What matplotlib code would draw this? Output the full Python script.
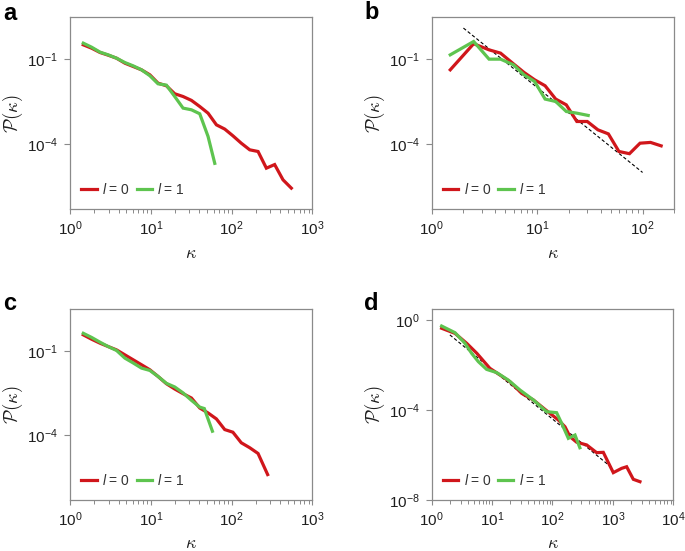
import matplotlib
matplotlib.use('Agg')
import matplotlib.pyplot as plt
from matplotlib import ticker

plt.rcParams['font.family'] = ['Liberation Sans', 'DejaVu Sans']
# legend "l" is a sans italic, axis labels use computer modern (set per text)
plt.rcParams['mathtext.fontset'] = 'custom'
plt.rcParams['mathtext.rm'] = 'Liberation Sans'
plt.rcParams['mathtext.it'] = 'Liberation Sans:italic'
plt.rcParams['mathtext.bf'] = 'Liberation Sans:bold'

RED = '#d0161b'
GREEN = '#5ec44f'
SPINE = '#8a8a8a'
TEXT = '#1e1e1e'

# panel a
k_a0 = [1.46, 1.85, 2.35, 2.97, 3.77, 4.78, 6.06, 7.68, 9.74, 12.3, 15.6, 19.8, 25.1,
        31.9, 40.4, 51.2, 65.0, 82.4, 104, 132, 168, 213, 270, 342, 434, 550]
p_a0 = [0.32, 0.244, 0.172, 0.138, 0.108, 0.072, 0.055, 0.042, 0.028, 0.0142, 0.0115,
        0.0060, 0.0048, 0.0035, 0.00213, 0.00124, 4.8e-4, 3.4e-4, 1.97e-4, 1.08e-4,
        6.3e-5, 5.5e-5, 1.42e-5, 1.9e-5, 5.5e-6, 2.8e-6]
k_a1 = [1.46, 1.85, 2.35, 2.97, 3.77, 4.78, 6.06, 7.68, 9.74, 12.3, 15.6, 19.8, 25.1,
        31.9, 40.4, 51.2, 62.0]
p_a1 = [0.367, 0.265, 0.177, 0.142, 0.108, 0.076, 0.058, 0.042, 0.026, 0.0135, 0.0121,
        0.0048, 0.00187, 0.00163, 0.00118, 1.87e-4, 2.1e-5]

# panel b
k_b0 = [1.5, 2.5, 3.5, 4.5, 5.97, 7.51, 9.46, 11.9, 15.0, 18.9, 23.8, 29.9, 37.7,
        47.4, 59.7, 75.1, 94.6, 119, 150]
p_b0 = [0.042, 0.35, 0.213, 0.163, 0.068, 0.034, 0.0187, 0.0115, 0.0039, 0.00244,
        6.3e-4, 6.3e-4, 3.2e-4, 2.3e-4, 5.5e-5, 4.6e-5, 1.08e-4, 1.15e-4, 8.7e-5]
k_b1 = [1.5, 2.5, 3.5, 4.5, 5.97, 7.51, 9.46, 11.9, 15.0, 18.9, 23.8, 30.5]
p_b1 = [0.142, 0.42, 0.1, 0.1, 0.063, 0.028, 0.0163, 0.0039, 0.0032, 0.00142,
        0.00124, 0.00103]
fit_b_k = [2, 100]
fit_b_p = [1.25, 1e-5]

# panel c
k_c0 = [1.46, 1.85, 2.35, 2.97, 3.77, 4.78, 6.06, 7.68, 9.74, 12.3, 15.6, 19.8, 25.1,
        31.9, 40.4, 51.2, 65.0, 82.4, 104, 132, 168, 213, 280]
p_c0 = [0.37, 0.259, 0.187, 0.142, 0.108, 0.072, 0.048, 0.032, 0.0212, 0.0123, 0.0068,
        0.0044, 0.0030, 0.0021, 9.3e-4, 6.2e-4, 3.8e-4, 1.59e-4, 1.28e-4, 5.4e-5,
        3.6e-5, 2.25e-5, 4.0e-6]
k_c1 = [1.46, 1.85, 2.35, 2.97, 3.77, 4.78, 6.06, 7.68, 9.74, 12.3, 15.6, 19.8, 25.1,
        31.9, 40.4, 46.0, 58.0]
p_c1 = [0.42, 0.30, 0.203, 0.142, 0.103, 0.055, 0.037, 0.0243, 0.0201, 0.0123, 0.0070,
        0.0052, 0.0032, 0.00174, 1.0e-3, 8.9e-4, 1.39e-4]

# panel d
k_d0 = [1.46, 2.43, 3.8, 5.6, 9.2, 13.5, 19.8, 30.9, 48.2, 80, 125, 161, 195, 251,
        368, 538, 694, 1016, 1397, 1690, 2178, 2806]
p_d0 = [0.43, 0.255, 0.092, 0.033, 0.0071, 0.0036, 0.0018, 5.5e-4, 2.8e-4, 9.3e-5,
        3.6e-5, 1.8e-5, 6.5e-6, 3.7e-6, 2.8e-6, 1.27e-6, 1.31e-6, 1.64e-7, 2.55e-7,
        3.0e-7, 8.3e-8, 6.5e-8]
k_d1 = [1.46, 2.43, 3.56, 4.59, 5.92, 8.11, 11.9, 18.5, 29, 48.2, 80, 117, 142, 183,
        236, 284]
p_d1 = [0.54, 0.274, 0.092, 0.033, 0.0141, 0.0064, 0.0046, 0.00215, 7.7e-4, 2.8e-4,
        8.4e-5, 7.6e-5, 2.55e-5, 5.5e-6, 7.7e-6, 2.1e-6]
fit_d_k = [2, 1000]
fit_d_p = [0.218, 2.5e-7]

legend_labels = [r'$l$ = 0', r'$l$ = 1']


def draw_panel(ax, k0, p0, k1, p1, xlim, ylim, yticks, fit=None):
    if fit is not None:
        ax.plot(fit[0], fit[1], color='black', lw=0.8, dashes=(3, 2), zorder=1)
    ax.plot(k0, p0, color=RED, lw=2.3, label=legend_labels[0], zorder=2,
            solid_joinstyle='miter')
    ax.plot(k1, p1, color=GREEN, lw=2.3, label=legend_labels[1], zorder=3,
            solid_joinstyle='miter')
    ax.set_xscale('log')
    ax.set_yscale('log')
    ax.set_xlim(*xlim)
    ax.set_ylim(*ylim)
    ax.set_yticks(yticks)
    ax.yaxis.set_minor_locator(ticker.NullLocator())
    ax.xaxis.set_minor_locator(ticker.LogLocator(base=10, subs=range(2, 10), numticks=20))
    for s in ax.spines.values():
        s.set_color(SPINE)
        s.set_linewidth(0.9)
    ax.tick_params(axis='x', which='major', length=3.5, width=0.8, color=SPINE,
                   labelsize=11, labelcolor=TEXT, pad=4)
    ax.tick_params(axis='x', which='minor', length=3, width=0.7, color=SPINE)
    ax.tick_params(axis='y', which='major', length=4.5, width=0.8, color=SPINE,
                   labelsize=11, labelcolor=TEXT, pad=4)
    ax.set_xlabel(r'$\kappa$', fontsize=13, math_fontfamily='cm', color=TEXT)
    ax.xaxis.set_label_coords(0.5, -0.185)
    ax.set_ylabel(r'$\mathcal{P}(\kappa)$', fontsize=13.5, math_fontfamily='cm', color=TEXT)
    ax.yaxis.set_label_coords(-0.185, 0.5)
    leg = ax.legend(loc='center left', bbox_to_anchor=(0.047, 0.104), ncol=2,
                    frameon=False, borderpad=0, borderaxespad=0, handlelength=1.1,
                    handletextpad=0.4, columnspacing=0.45, fontsize=10)
    for t in leg.get_texts():
        t.set_color('#333333')


fig = plt.figure(figsize=(6.85, 5.51), dpi=100)
ax_a = fig.add_axes([0.1022, 0.6201, 0.3537, 0.3485])
ax_b = fig.add_axes([0.6302, 0.6201, 0.3542, 0.3485])
ax_c = fig.add_axes([0.1022, 0.0926, 0.3537, 0.3461])
ax_d = fig.add_axes([0.6302, 0.0926, 0.3527, 0.3461])

draw_panel(ax_a, k_a0, p_a0, k_a1, p_a1, (1, 1000), (5e-7, 3), [1e-1, 1e-4])
draw_panel(ax_b, k_b0, p_b0, k_b1, p_b1, (1, 200), (5e-7, 3), [1e-1, 1e-4],
           fit=(fit_b_k, fit_b_p))
draw_panel(ax_c, k_c0, p_c0, k_c1, p_c1, (1, 1000), (5e-7, 3), [1e-1, 1e-4])
draw_panel(ax_d, k_d0, p_d0, k_d1, p_d1, (1, 1e4), (1e-8, 3), [1e0, 1e-4, 1e-8],
           fit=(fit_d_k, fit_d_p))

# panel letters, placed in pixels from the top-left corner
for letter, px, py in [('a', 3, 20), ('b', 364, 19), ('c', 3, 310), ('d', 364, 310)]:
    fig.text(px / 685, 1 - py / 551, letter, fontsize=17, fontweight='bold',
             va='baseline', ha='left', color='black')

fig.savefig('out.png', dpi=100)
